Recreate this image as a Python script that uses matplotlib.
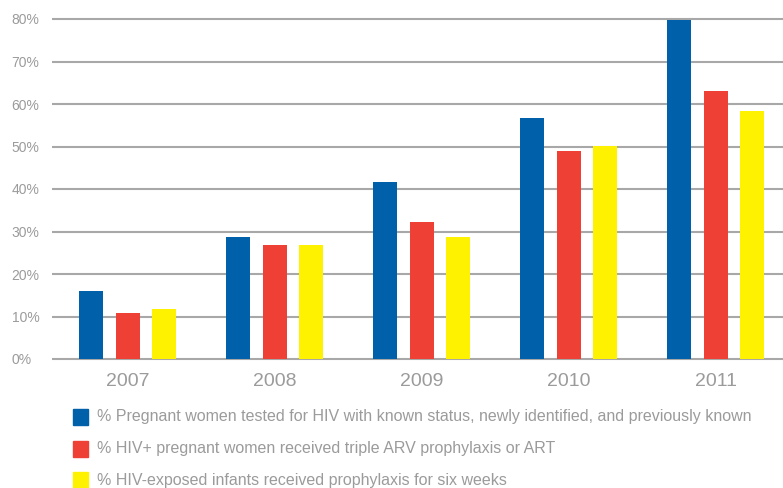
import matplotlib.pyplot as plt
import numpy as np
from matplotlib.patches import Rectangle

plt.rcParams['font.family'] = ['Liberation Sans', 'DejaVu Sans']

# Data
years = ['2007', '2008', '2009', '2010', '2011']
tested = [16.0, 28.7, 41.6, 56.7, 79.8]
triple_arv = [10.8, 26.8, 32.3, 48.9, 63.1]
infants = [11.8, 26.8, 28.7, 50.1, 58.4]
yticks = [0, 10, 20, 30, 40, 50, 60, 70, 80]

labels = [
    '% Pregnant women tested for HIV with known status, newly identified, and previously known',
    '% HIV+ pregnant women received triple ARV prophylaxis or ART',
    '% HIV-exposed infants received prophylaxis for six weeks',
]
colors = ['#0060a9', '#ef4035', '#fff200']
gray = '#9b9b9b'

W, H = 783, 488
fig = plt.figure(figsize=(W / 100, H / 100), dpi=100)
ax = fig.add_axes([52 / W, 129 / H, 1 - 52 / W, (359 - 19) / H])

x = np.arange(len(years))
width = 0.163
offsets = [-0.248, 0, 0.248]
for vals, off, c in zip([tested, triple_arv, infants], offsets, colors):
    ax.bar(x + off, vals, width, color=c, zorder=3)

ax.set_xlim(-0.514, 4.459)
ax.set_ylim(0, 80)

# gridlines
ax.hlines(yticks, -0.514, 4.459, colors='#a8a8a8', linewidth=1.5, zorder=1, clip_on=False)

for s in ax.spines.values():
    s.set_visible(False)

ax.set_yticks(yticks)
ax.set_yticklabels([f'{v}%' for v in yticks])
ax.tick_params(axis='y', length=0, pad=29, labelsize=10, labelcolor=gray)
for lab in ax.get_yticklabels():
    lab.set_horizontalalignment('left')

ax.set_xticks(x)
ax.set_xticklabels(years)
ax.tick_params(axis='x', length=0, pad=10, labelsize=14, labelcolor=gray)

# legend
for i, (lab, c) in enumerate(zip(labels, colors)):
    top = 409 + i * 31.7
    fig.patches.append(Rectangle((73 / W, 1 - (top + 16) / H), 15 / W, 16 / H,
                                 transform=fig.transFigure, color=c))
    fig.text(97 / W, 1 - (top + 8) / H, lab, fontsize=11.5, color=gray,
             va='center', ha='left')

fig.savefig('out.png', dpi=100)
